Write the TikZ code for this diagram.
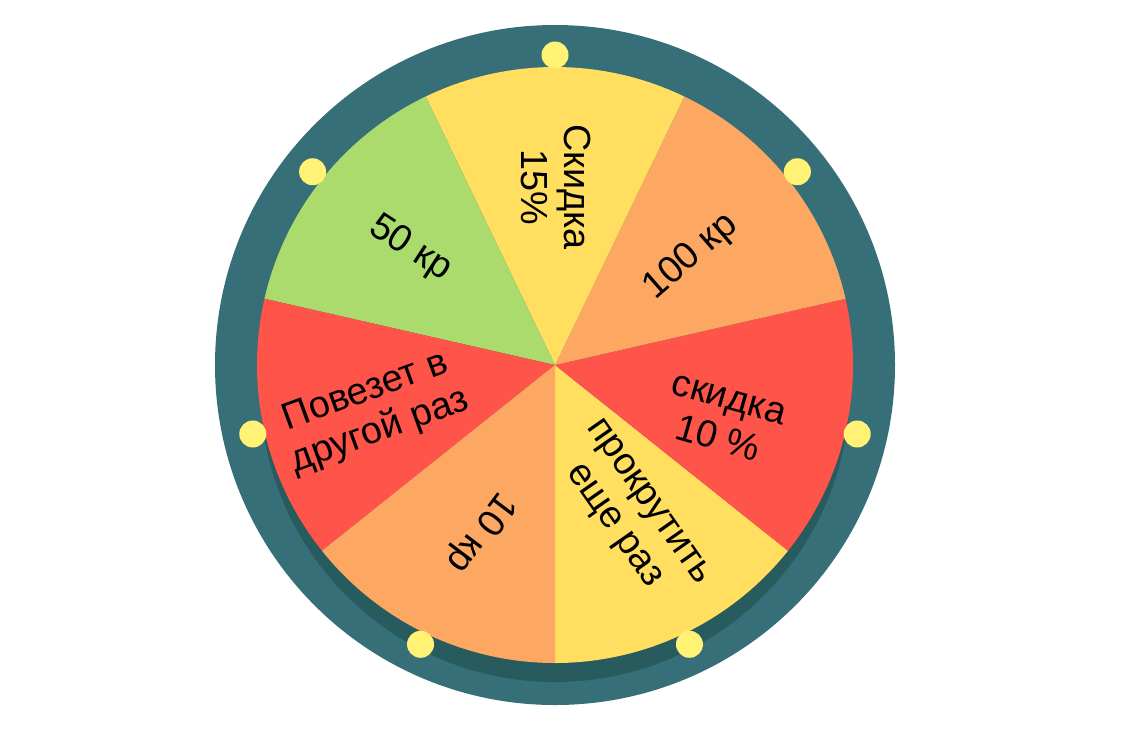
\documentclass[tikz,border=0pt]{standalone}
\usepackage{fontspec}
\setmainfont{Liberation Sans}
\definecolor{ringteal}{HTML}{376F78}
\definecolor{ringshadow}{HTML}{285B5E}
\definecolor{wgreen}{HTML}{AADB6C}
\definecolor{wyellow}{HTML}{FFDE60}
\definecolor{worange}{HTML}{FCA862}
\definecolor{wred}{HTML}{FF5449}
\definecolor{wdot}{HTML}{FFF275}
\tikzset{prize/.style={align=center,text=black,font=\fontsize{21.5}{24}\selectfont,inner sep=0pt}}
\begin{document}
\begin{tikzpicture}[line cap=round,line join=round,x=1.0cm,y=1.0cm]
			\useasboundingbox (-11.1,-7.7) rectangle (11.4,7.3);
			% ring and its shadow
			\fill [ringteal] (0,0) circle (6.8);
			\fill [ringshadow] (0,-0.44) circle (5.9);
			% sectors
			\fill [wyellow] (0,0) -- (270:5.96) arc (270:321.43:5.96) -- cycle;
			\fill [wred] (0,0) -- (321.43:5.96) arc (321.43:372.86:5.96) -- cycle;
			\fill [worange] (0,0) -- (12.86:5.96) arc (12.86:64.29:5.96) -- cycle;
			\fill [wyellow] (0,0) -- (64.29:5.96) arc (64.29:115.71:5.96) -- cycle;
			\fill [wgreen] (0,0) -- (115.71:5.96) arc (115.71:167.14:5.96) -- cycle;
			\fill [wred] (0,0) -- (167.14:5.96) arc (167.14:218.57:5.96) -- cycle;
			\fill [worange] (0,0) -- (218.57:5.96) arc (218.57:270:5.96) -- cycle;
			% lamps
			\fill [wdot] (90:6.2) circle (0.27);
			\fill [wdot] (141.43:6.2) circle (0.27);
			\fill [wdot] (192.86:6.2) circle (0.27);
			\fill [wdot] (244.29:6.2) circle (0.27);
			\fill [wdot] (295.71:6.2) circle (0.27);
			\fill [wdot] (347.14:6.2) circle (0.27);
			\fill [wdot] (38.57:6.2) circle (0.27);
			% labels
			\node [prize,rotate=-90] (skidka15) at (0.02,3.56) {Скидка\\15\%};
			\node [prize,rotate=41] (kr100) at (2.72,2.16) {100 кр};
			\node [prize,rotate=-16] (skidka10) at (3.36,-1.10) {скидка\\10 \%};
			\node [prize,rotate=-55] (spin) at (1.5,-3.0) {прокрутить\\еще раз};
			\node [prize,rotate=233] (kr10) at (-1.5,-3.34) {10 кр};
			\node [prize,rotate=20] (nextTime) at (-3.64,-0.94) {Повезет в\\другой раз};
			\node [prize,rotate=-33] (kr50) at (-2.9,2.32) {50 кр};
			\end{tikzpicture}
\end{document}
